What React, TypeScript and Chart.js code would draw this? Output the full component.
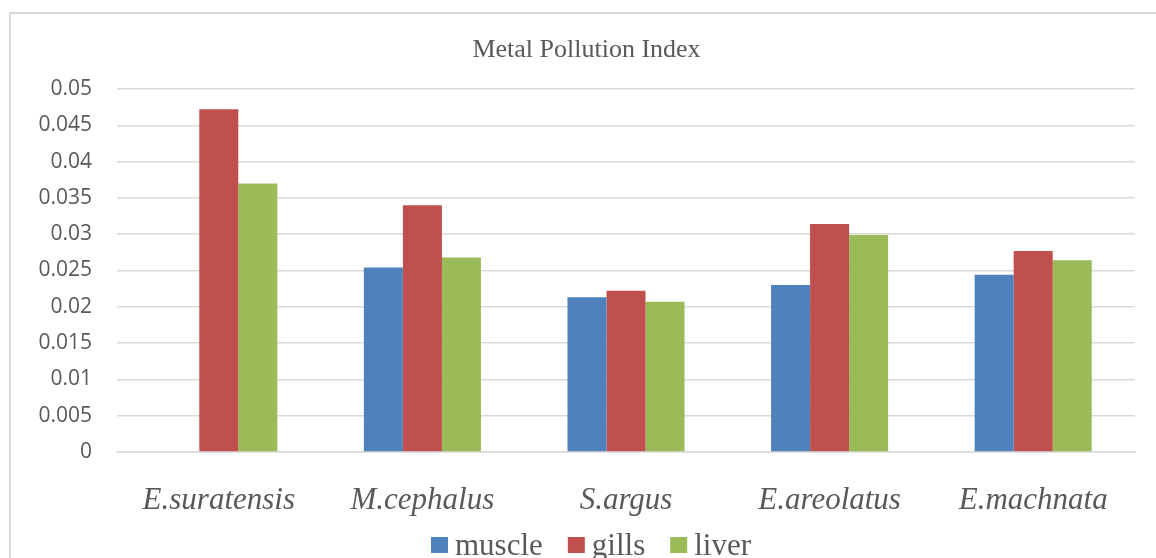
import React, { useEffect, useRef } from "react";
import { Chart, registerables } from "chart.js";

Chart.register(...registerables);

const TITLE = "Metal Pollution Index";
const categories = ["E.suratensis", "M.cephalus", "S.argus", "E.areolatus", "E.machnata"];
const muscle = [0, 0.0254, 0.0213, 0.023, 0.0244];
const gills = [0.0472, 0.034, 0.0222, 0.0314, 0.0277];
const liver = [0.037, 0.0268, 0.0207, 0.0299, 0.0264];
const seriesNames = ["muscle", "gills", "liver"];
const seriesColors = ["#4F81BD", "#C0504D", "#9BBB59"];
const yTicks = [0, 0.005, 0.01, 0.015, 0.02, 0.025, 0.03, 0.035, 0.04, 0.045, 0.05];

const TEXT = "#595959";
const SERIF = "'Liberation Serif', 'Times New Roman', serif";

const decorPlugin = {
  id: "decor",
  afterDraw(chart: any) {
    const ctx = chart.ctx;
    ctx.save();
    // title
    ctx.fillStyle = TEXT;
    ctx.font = `26px ${SERIF}`;
    ctx.textAlign = "center";
    ctx.textBaseline = "alphabetic";
    ctx.fillText(TITLE, 586.5, 57);
    // legend
    ctx.font = `31px ${SERIF}`;
    ctx.textAlign = "left";
    let x = 431;
    chart.data.datasets.forEach((ds: any) => {
      ctx.fillStyle = ds.backgroundColor;
      ctx.fillRect(x, 537, 17, 16);
      ctx.fillStyle = TEXT;
      const tx = x + 24;
      ctx.fillText(ds.label, tx, 555);
      x = tx + ctx.measureText(ds.label).width + 25;
    });
    ctx.restore();
  },
};

export default function App() {
  const ref = useRef<HTMLCanvasElement>(null);
  useEffect(() => {
    if (!ref.current) return;
    const chart = new Chart(ref.current, {
      type: "bar",
      data: {
        labels: categories,
        datasets: [muscle, gills, liver].map((d, i) => ({
          label: seriesNames[i],
          data: d,
          backgroundColor: seriesColors[i],
          borderWidth: 0,
          barPercentage: 1,
          categoryPercentage: 0.575,
        })),
      },
      options: {
        animation: false,
        responsive: false,
        maintainAspectRatio: false,
        layout: { padding: { left: 20, right: 21, top: 89, bottom: 0 } },
        plugins: {
          legend: { display: false },
          title: { display: false },
          tooltip: { enabled: false },
        },
        scales: {
          x: {
            grid: { display: false, drawTicks: false },
            border: { display: true, color: "#d9d9d9", width: 1.5 },
            ticks: {
              padding: 30,
              color: TEXT,
              font: { family: SERIF, size: 31, style: "italic" },
              maxRotation: 0,
              autoSkip: false,
            },
            afterFit(scale: any) {
              scale.height = 106;
            },
          },
          y: {
            min: 0,
            max: 0.05,
            afterBuildTicks(scale: any) {
              scale.ticks = yTicks.map((v) => ({ value: v }));
            },
            grid: { color: "#d9d9d9", lineWidth: 1.5, drawTicks: false },
            border: { display: false },
            ticks: {
              padding: 25,
              color: TEXT,
              font: { family: "'Open Sans', sans-serif", size: 21 },
              callback: (v: any) => String(Number(v)),
            },
            afterFit(scale: any) {
              scale.width = 97;
            },
          },
        },
      },
      plugins: [decorPlugin],
    });
    return () => chart.destroy();
  }, []);

  return (
    <div style={{ position: "fixed", left: 0, top: 0, width: 1156, height: 558, background: "#fff", overflow: "hidden" }}>
      <div
        style={{
          position: "absolute",
          left: 9,
          top: 12,
          width: 1200,
          height: 600,
          borderLeft: "2px solid #d9d9d9",
          borderTop: "2px solid #d9d9d9",
        }}
      />
      <canvas ref={ref} width={1156} height={558} style={{ position: "absolute", left: 0, top: 0, width: 1156, height: 558 }} />
    </div>
  );
}
